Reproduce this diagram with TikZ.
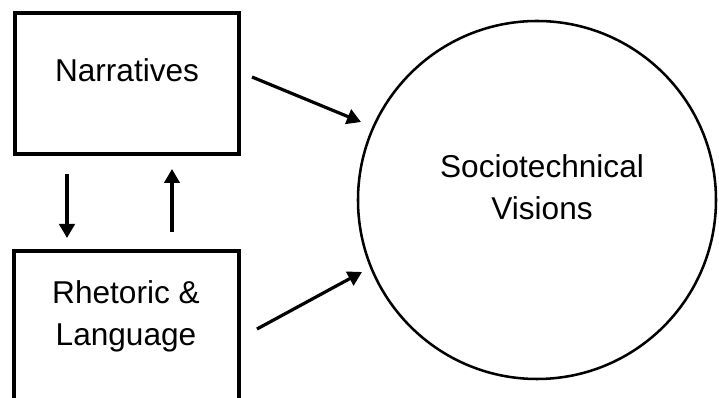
\documentclass[tikz,border=0pt]{standalone}
\usepackage{fontspec}
\setmainfont{Liberation Sans}
\usetikzlibrary{arrows.meta}
\begin{document}
\begin{tikzpicture}[x=0.75pt,y=-0.75pt,
 box/.style={draw, line width=2.6pt, inner sep=0pt},
 lbl/.style={font=\fontsize{23.7}{31.5}\selectfont, align=center, inner sep=0pt},
 arr/.style={line width=2.4pt, -{Triangle[length=10.5pt,width=11.5pt]}}]
\useasboundingbox (0,0) rectangle (719,398);
\clip (0,0) rectangle (719,398);
\node[box, minimum width=168pt, minimum height=105.75pt] (narrbox) at (127,83.5) {};
\node[lbl, anchor=base] (narr) at (127,82) {Narratives};
\node[box, minimum width=168.75pt, minimum height=119.25pt] (rhetbox) at (126.5,330.5) {};
\node[lbl] (rhet) at (126,316) {Rhetoric \&\\Language};
\node[draw, circle, line width=1.9pt, minimum size=268.5pt, inner sep=0pt] (vis) at (537,200) {};
\node[lbl] (vist) at (542,187) {Sociotechnical\\Visions};
\coordinate (d1) at (67,174);
\coordinate (d2) at (67,238);
\coordinate (u1) at (172,232);
\coordinate (u2) at (172,169);
\coordinate (a1) at (252,77);
\coordinate (a2) at (361,122);
\coordinate (b1) at (257,329);
\coordinate (b2) at (362,272);
\draw[arr] (d1) -- (d2);
\draw[arr] (u1) -- (u2);
\draw[arr] (a1) -- (a2);
\draw[arr] (b1) -- (b2);
\end{tikzpicture}
\end{document}
